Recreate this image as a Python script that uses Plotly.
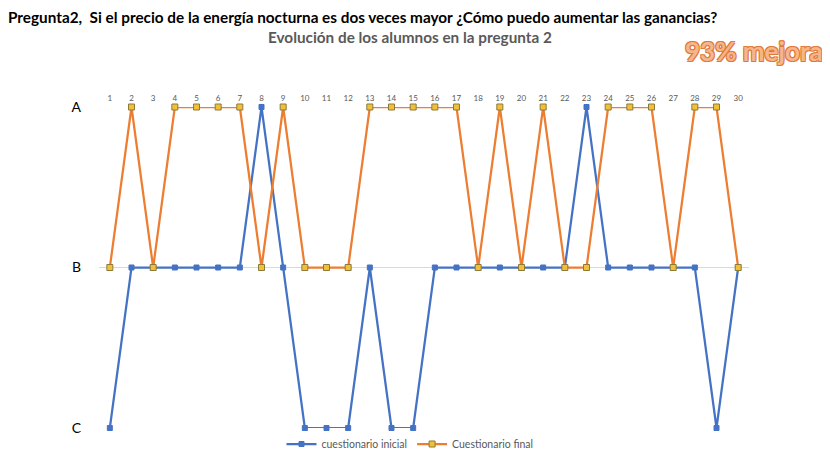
import plotly.graph_objects as go

alumnos = list(range(1, 31))
niveles = ["C", "B", "A"]
inicial = ["C", "B", "B", "B", "B", "B", "B", "A", "B", "C",
           "C", "C", "B", "C", "C", "B", "B", "B", "B", "B",
           "B", "B", "A", "B", "B", "B", "B", "B", "C", "B"]
final = ["B", "A", "B", "A", "A", "A", "A", "B", "A", "B",
         "B", "B", "A", "A", "A", "A", "A", "B", "A", "B",
         "A", "B", "B", "A", "A", "A", "B", "A", "A", "B"]

idx = {n: i for i, n in enumerate(niveles)}

# page body has an 8px margin; figure is sized to fill the rest of the window
OFF = 8
W, H = 830 - OFF, 450 - OFF
L, R, T, B = 99 - OFF, 830 - 749, 107 - OFF, 450 - 428
PW, PH = W - L - R, H - T - B


def px(xabs):
    return (xabs - OFF - L) / PW


def py(yabs):
    return (H - B - (yabs - OFF)) / PH


fig = go.Figure()
fig.add_trace(go.Scatter(
    x=alumnos, y=[idx[v] for v in inicial], mode="lines+markers",
    name="cuestionario inicial",
    line=dict(color="#4472C4", width=2.25),
    marker=dict(symbol="square", size=5, color="#4472C4", line=dict(color="#4472C4", width=1)),
    cliponaxis=False,
))
fig.add_trace(go.Scatter(
    x=alumnos, y=[idx[v] for v in final], mode="lines+markers",
    name="Cuestionario final",
    line=dict(color="#ED7D31", width=2.25),
    marker=dict(symbol="square", size=6, color="#F2C037", line=dict(color="#8C7A3C", width=1)),
    cliponaxis=False,
))

fig.update_layout(
    width=W, height=H,
    margin=dict(l=L, r=R, t=T, b=B, autoexpand=False),
    paper_bgcolor="white", plot_bgcolor="white",
    font=dict(family="Lato", color="#595959"),
    showlegend=True,
    legend=dict(orientation="h", x=px(410), xanchor="center", y=py(444), yanchor="middle",
                font=dict(size=10.5, color="#595959"), itemwidth=30, bgcolor="rgba(0,0,0,0)"),
    title=dict(text="<b>Pregunta2,  Si el precio de la energía nocturna es dos veces mayor ¿Cómo puedo aumentar las ganancias?</b>",
               x=0.0, xanchor="left", y=1 - (18 - OFF) / H, yanchor="middle", yref="container",
               pad=dict(l=0, t=0, b=0, r=0),
               font=dict(family="Lato", size=15.3, color="#000000")),
    annotations=[
        dict(text="<b>Evolución de los alumnos en la pregunta 2</b>", xref="paper", yref="paper",
             x=px(410), y=py(37), xanchor="center", yanchor="middle",
             showarrow=False, font=dict(family="Lato", size=15.3, color="#595959")),
        dict(text="<b>93% mejora</b>", xref="paper", yref="paper",
             x=px(754), y=py(51), xanchor="center", yanchor="middle",
             showarrow=False,
             font=dict(family="Lato", size=26, color="#F6B58A",
                       shadow="1px 1px 0 #E07A3A, -1px -1px 0 #E07A3A, 1px -1px 0 #E07A3A, -1px 1px 0 #E07A3A")),
    ],
)

fig.update_xaxes(range=[0.5, 30.5], side="top", tickmode="array", tickvals=alumnos,
                 ticktext=[str(a) for a in alumnos], showgrid=False, zeroline=False,
                 showline=False, ticks="", ticklabelstandoff=3, automargin=False,
                 tickfont=dict(size=8, color="#595959"))
fig.update_yaxes(range=[0, 2], tickmode="array", tickvals=[0, 1, 2], ticktext=niveles,
                 showgrid=True, gridcolor="#D9D9D9", gridwidth=1, zeroline=False,
                 showline=False, ticks="", ticklabelstandoff=17, automargin=False,
                 tickfont=dict(size=14, color="#000000"))

fig.write_html("out.html")
